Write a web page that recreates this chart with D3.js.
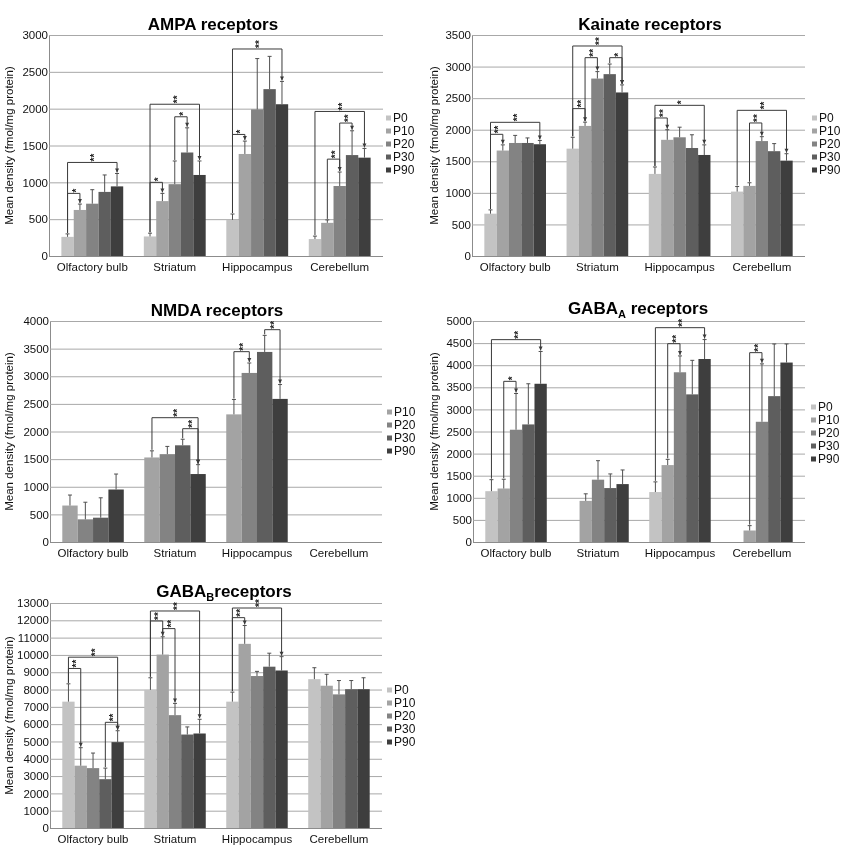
<!DOCTYPE html>
<html>
<head>
<meta charset="utf-8">
<script src="https://cdn.jsdelivr.net/npm/d3@7"></script>
<style>
body{margin:0;background:#fff}
svg{display:block;font-family:"Liberation Sans",Arial,sans-serif;filter:grayscale(100%)}
</style>
</head>
<body>
<svg id="chart" width="849" height="850"></svg>
<script>
var categories = ['Olfactory bulb', 'Striatum', 'Hippocampus', 'Cerebellum'];
var ages = ['P0', 'P10', 'P20', 'P30', 'P90'];
var nmdaAges = ['P10', 'P20', 'P30', 'P90'];

// mean density per region (rows) and age (columns), fmol/mg protein
var ampaMean = [[260, 625, 710, 870, 945], [265, 745, 975, 1405, 1100], [490, 1385, 1990, 2265, 2060], [230, 450, 950, 1370, 1335]];
var ampaErr = [[40, 80, 190, 230, 175], [45, 105, 315, 335, 190], [80, 175, 690, 445, 310], [40, 40, 190, 330, 125]];
var ampaTicks = [0, 500, 1000, 1500, 2000, 2500, 3000];
var ampaSig = [[0, 'P0', 'P10', 850, '*'], [0, 'P0', 'P90', 1270, '**'], [1, 'P0', 'P10', 1000, '*'], [1, 'P20', 'P30', 1890, '*'], [1, 'P0', 'P90', 2060, '**'],
	[2, 'P0', 'P10', 1650, '*'], [2, 'P0', 'P90', 2810, '**'], [3, 'P10', 'P20', 1315, '**'], [3, 'P20', 'P30', 1805, '**'], [3, 'P0', 'P90', 1962, '**']];

var kainateMean = [[670, 1670, 1790, 1790, 1770], [1700, 2060, 2810, 2880, 2590], [1300, 1840, 1880, 1710, 1600], [1020, 1110, 1820, 1660, 1510]];
var kainateErr = [[60, 90, 120, 80, 60], [180, 60, 110, 160, 120], [110, 160, 160, 210, 160], [80, 50, 70, 120, 110]];
var kainateTicks = [0, 500, 1000, 1500, 2000, 2500, 3000, 3500];
var kainateSig = [[0, 'P0', 'P10', 1927, '**'], [0, 'P0', 'P90', 2117, '**'], [1, 'P0', 'P10', 2334, '**'], [1, 'P10', 'P20', 3141, '**'], [1, 'P30', 'P90', 3141, '*'],
	[1, 'P0', 'P90', 3326, '**'], [2, 'P0', 'P10', 2186, '**'], [2, 'P0', 'P90', 2386, '*'], [3, 'P10', 'P20', 2107, '**'], [3, 'P0', 'P90', 2307, '**']];

var nmdaMean = [[660, 410, 440, 950], [1530, 1590, 1750, 1230], [2310, 3060, 3440, 2590], [null, null, null, null]];
var nmdaErr = [[190, 310, 360, 280], [120, 140, 110, 170], [270, 180, 300, 260], [null, null, null, null]];
var nmdaTicks = [0, 500, 1000, 1500, 2000, 2500, 3000, 3500, 4000];
var nmdaSig = [[1, 'P30', 'P90', 2051, '**'], [1, 'P10', 'P90', 2250, '**'], [2, 'P10', 'P20', 3445, '**'], [2, 'P30', 'P90', 3843, '**']];

var gabaAMean = [[1150, 1210, 2540, 2660, 3580], [null, 930, 1410, 1220, 1310], [1130, 1740, 3840, 3340, 4140], [null, 260, 2720, 3300, 4060]];
var gabaAErr = [[260, 210, 820, 920, 730], [null, 160, 430, 320, 320], [230, 130, 370, 770, 440], [null, 110, 1310, 1180, 420]];
var gabaATicks = [0, 500, 1000, 1500, 2000, 2500, 3000, 3500, 4000, 4500, 5000];
var gabaASig = [[0, 'P10', 'P20', 3635, '*'], [0, 'P0', 'P90', 4578, '**'], [2, 'P10', 'P20', 4487, '**'], [2, 'P0', 'P90', 4849, '**'], [3, 'P10', 'P20', 4284, '**']];

var gabaBMean = [[7300, 3600, 3460, 2820, 4960], [7980, 10020, 6520, 5400, 5460], [7300, 10640, 8780, 9320, 9100], [8600, 8220, 7720, 8020, 8020]];
var gabaBErr = [[1030, 1040, 870, 640, 660], [700, 1030, 680, 440, 820], [550, 1060, 270, 780, 800], [660, 660, 800, 500, 660]];
var gabaBTicks = [0, 1000, 2000, 3000, 4000, 5000, 6000, 7000, 8000, 9000, 10000, 11000, 12000, 13000];
var gabaBSig = [[0, 'P0', 'P10', 9217, '**'], [0, 'P0', 'P90', 9870, '**'], [0, 'P30', 'P90', 6106, '**'], [1, 'P10', 'P20', 11521, '**'],
	[1, 'P0', 'P10', 11962, '**'], [1, 'P0', 'P90', 12538, '**'], [2, 'P0', 'P10', 12154, '**'], [2, 'P0', 'P90', 12711, '**']];

var shades = {P0: '#c3c3c3', P10: '#a3a3a3', P20: '#838383', P30: '#5e5e5e', P90: '#3e3e3e'};

var panels = [
	{title: ['AMPA receptors', '', ''], ages: ages, mean: ampaMean, err: ampaErr, ticks: ampaTicks, sig: ampaSig,
		box: [49, 35, 383, 256], titleX: 213, titleY: 29.5, legend: [386, 118], labelX: 13},
	{title: ['Kainate receptors', '', ''], ages: ages, mean: kainateMean, err: kainateErr, ticks: kainateTicks, sig: kainateSig,
		box: [472, 35, 805, 256], titleX: 650, titleY: 29.5, legend: [812, 118], labelX: 438},
	{title: ['NMDA receptors', '', ''], ages: nmdaAges, mean: nmdaMean, err: nmdaErr, ticks: nmdaTicks, sig: nmdaSig,
		box: [50, 321, 382, 542], titleX: 217, titleY: 315.5, legend: [387, 412], labelX: 13},
	{title: ['GABA', 'A', ' receptors'], ages: ages, mean: gabaAMean, err: gabaAErr, ticks: gabaATicks, sig: gabaASig,
		box: [473, 321, 805, 542], titleX: 638, titleY: 314, legend: [811, 407], labelX: 438},
	{title: ['GABA', 'B', 'receptors'], ages: ages, mean: gabaBMean, err: gabaBErr, ticks: gabaBTicks, sig: gabaBSig,
		box: [50, 603, 382, 828], titleX: 224, titleY: 597, legend: [387, 690], labelX: 13}
];

var svg = d3.select('#chart');

function drawPanel(p){
	var left = p.box[0], top = p.box[1], right = p.box[2], bottom = p.box[3];
	var g = svg.append('g');

	var x0 = d3.scaleBand().domain(categories).range([left, right]).paddingInner(0.25).paddingOuter(0.15);
	var x1 = d3.scaleBand().domain(p.ages).range([0, x0.bandwidth()]);
	var y = d3.scaleLinear().domain([0, d3.max(p.ticks)]).range([bottom, top]);

	// gridlines + tick labels
	var yAxis = g.append('g')
		.attr('transform', 'translate(' + left + ',0)')
		.call(d3.axisLeft(y).tickValues(p.ticks).tickSize(-(right - left)).tickSizeOuter(0).tickPadding(1).tickFormat(d3.format('d')));
	yAxis.select('.domain').attr('stroke', '#8c8c8c');
	yAxis.selectAll('.tick line').attr('stroke', '#a8a8a8').attr('stroke-width', 1);
	yAxis.selectAll('.tick text').attr('fill', '#111').style('font-size', '11.5px').style('font-family', '"Liberation Sans",Arial,sans-serif');
	yAxis.select('.tick line').attr('stroke', '#8c8c8c');

	var xAxis = g.append('g')
		.attr('transform', 'translate(0,' + bottom + ')')
		.call(d3.axisBottom(x0).tickSize(0).tickPadding(7));
	xAxis.select('.domain').remove();
	xAxis.selectAll('.tick text').attr('fill', '#111').style('font-size', '11.5px').style('font-family', '"Liberation Sans",Arial,sans-serif');

	// bars
	var rows = [];
	categories.forEach(function(c, ci){
		p.ages.forEach(function(a, ai){
			if (p.mean[ci][ai] != null) rows.push({cat: c, age: a, v: p.mean[ci][ai], e: p.err[ci][ai]});
		});
	});
	var bars = g.append('g').selectAll('g').data(rows).join('g')
		.attr('transform', function(d){ return 'translate(' + (x0(d.cat) + x1(d.age)) + ',0)'; });
	bars.append('rect')
		.attr('x', 0)
		.attr('width', x1.bandwidth())
		.attr('y', function(d){ return y(d.v); })
		.attr('height', function(d){ return y(0) - y(d.v); })
		.attr('fill', function(d){ return shades[d.age]; });
	var cx = x1.bandwidth() / 2;
	bars.append('path')
		.attr('d', function(d){
			var yt = y(d.v + d.e);
			return 'M ' + cx + ' ' + y(d.v) + ' V ' + yt + ' M ' + (cx - 2) + ' ' + yt + ' H ' + (cx + 2);
		})
		.attr('stroke', '#505050')
		.attr('stroke-width', 1)
		.attr('fill', 'none');

	// significance brackets
	var tip = function(ci, a){
		var ai = p.ages.indexOf(a);
		return {x: x0(categories[ci]) + x1(a) + cx, y: y(p.mean[ci][ai] + p.err[ci][ai]) - 1};
	};
	var sg = g.append('g');
	p.sig.forEach(function(s){
		var a = tip(s[0], s[1]), b = tip(s[0], s[2]), yl = y(s[3]);
		sg.append('path')
			.attr('d', 'M ' + a.x + ' ' + a.y + ' V ' + yl + ' H ' + b.x + ' V ' + b.y)
			.attr('stroke', '#3a3a3a')
			.attr('stroke-width', 1)
			.attr('fill', 'none');
		sg.append('path')
			.attr('d', 'M ' + (b.x - 2) + ' ' + (b.y - 4) + ' L ' + (b.x + 2) + ' ' + (b.y - 4) + ' L ' + b.x + ' ' + b.y + ' Z')
			.attr('fill', '#3a3a3a');
		// stars run upward from the bracket, stacked like the original's rotated text
		var mid = (a.x + b.x) / 2;
		sg.append('text')
			.attr('transform', 'translate(' + (mid + 5.8) + ',' + (yl - 1) + ') rotate(-90)')
			.attr('fill', '#222')
			.style('font-size', '10px')
			.style('font-weight', 'bold')
			.text(s[4]);
	});

	// title
	var t = g.append('text')
		.attr('x', p.titleX)
		.attr('y', p.titleY)
		.attr('text-anchor', 'middle')
		.attr('fill', '#000')
		.style('font-size', '17px')
		.style('font-weight', 'bold');
	t.append('tspan').text(p.title[0]);
	if (p.title[1]) {
		t.append('tspan').attr('dy', 4).style('font-size', '11px').text(p.title[1]);
		t.append('tspan').attr('dy', -4).text(p.title[2]);
	}

	// y label
	g.append('text')
		.attr('transform', 'translate(' + p.labelX + ',' + ((top + bottom) / 2) + ') rotate(-90)')
		.attr('text-anchor', 'middle')
		.attr('fill', '#111')
		.style('font-size', '11.5px')
		.text('Mean density (fmol/mg protein)');

	// legend
	var lg = g.append('g').selectAll('g').data(p.ages).join('g')
		.attr('transform', function(d, i){ return 'translate(' + p.legend[0] + ',' + (p.legend[1] + i * 13) + ')'; });
	lg.append('rect').attr('x', 0).attr('y', -2.5).attr('width', 5).attr('height', 5)
		.attr('fill', function(d){ return shades[d]; });
	lg.append('text').attr('x', 7).attr('y', 0).attr('dy', '0.36em')
		.attr('fill', '#111')
		.style('font-size', '12px')
		.text(function(d){ return d; });
}

panels.forEach(drawPanel);
</script>
</body>
</html>
